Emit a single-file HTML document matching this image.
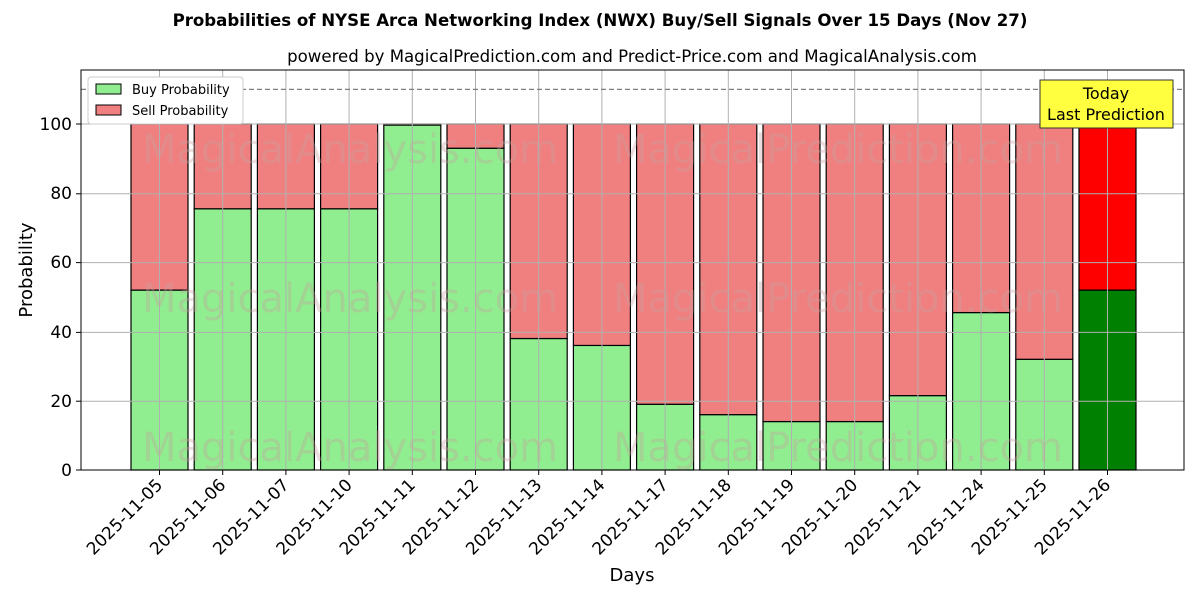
<!DOCTYPE html>
<html><head><meta charset="utf-8"><style>body{margin:0;background:#fff}svg{display:block}</style></head><body>
<svg width="1200" height="600" xmlns="http://www.w3.org/2000/svg" font-family="'DejaVu Sans','Liberation Sans',sans-serif">
<rect width="1200" height="600" fill="#fff"/>
<text x="600" y="26" text-anchor="middle" font-size="16.6" font-weight="bold">Probabilities of NYSE Arca Networking Index (NWX) Buy/Sell Signals Over 15 Days (Nov 27)</text>
<text x="632" y="62" text-anchor="middle" font-size="16.6">powered by MagicalPrediction.com and Predict-Price.com and MagicalAnalysis.com</text>
<g id="bars" stroke="#000" stroke-width="1.2"></g>
<g id="grid" stroke="#b0b0b0" stroke-width="1">
<line x1="81" x2="1184" y1="401.2" y2="401.2"/><line x1="81" x2="1184" y1="332.4" y2="332.4"/><line x1="81" x2="1184" y1="262.6" y2="262.6"/><line x1="81" x2="1184" y1="193.8" y2="193.8"/><line x1="81" x2="1184" y1="124" y2="124"/>
</g>
<g fill="#000" font-size="17" text-anchor="end">
<text x="72" y="476">0</text><text x="72" y="407">20</text><text x="72" y="338">40</text><text x="72" y="268">60</text><text x="72" y="199">80</text><text x="72" y="130">100</text>
</g>
<g stroke="#000"><line x1="76" x2="81" y1="470" y2="470"/><line x1="76" x2="81" y1="401.2" y2="401.2"/><line x1="76" x2="81" y1="332.4" y2="332.4"/><line x1="76" x2="81" y1="262.6" y2="262.6"/><line x1="76" x2="81" y1="193.8" y2="193.8"/><line x1="76" x2="81" y1="124" y2="124"/></g>
<g font-size="40" fill="#c8a0a0" opacity="0.35" text-anchor="middle">
<text x="350" y="163">MagicalAnalysis.com</text><text x="838" y="163">MagicalPrediction.com</text>
<text x="350" y="312">MagicalAnalysis.com</text><text x="838" y="312">MagicalPrediction.com</text>
<text x="350" y="461">MagicalAnalysis.com</text><text x="838" y="461">MagicalPrediction.com</text>
</g>
<line x1="81" x2="1184" y1="89.4" y2="89.4" stroke="#808080" stroke-width="1.3" stroke-dasharray="5,3"/>
<rect x="81" y="70" width="1103" height="400" fill="none" stroke="#000" stroke-width="1"/>
<g id="xl" font-size="17"></g>
<text x="632" y="581" text-anchor="middle" font-size="18">Days</text>
<text transform="translate(32,270) rotate(-90)" text-anchor="middle" font-size="18">Probability</text>
<rect x="1040" y="80" width="133" height="48" fill="#ffff40" stroke="#333" stroke-width="1"/>
<text x="1106" y="99" text-anchor="middle" font-size="16">Today</text>
<text x="1106" y="120" text-anchor="middle" font-size="16">Last Prediction</text>
<rect x="88" y="77" width="155" height="47" fill="#fff" stroke="#ccc" rx="3"/>
<rect x="96" y="84" width="25" height="10" fill="#90ee90" stroke="#000"/>
<text x="132" y="94" font-size="13">Buy Probability</text>
<rect x="96" y="105" width="25" height="10" fill="#f08080" stroke="#000"/>
<text x="132" y="115" font-size="13">Sell Probability</text>
</svg>
<script>
var ns="http://www.w3.org/2000/svg";
var buy=[52,75.5,75.5,75.5,99.7,93,38,36,19,16,14,14,21.5,45.5,32,52];
var d=["2025-11-05","2025-11-06","2025-11-07","2025-11-10","2025-11-11","2025-11-12","2025-11-13","2025-11-14","2025-11-17","2025-11-18","2025-11-19","2025-11-20","2025-11-21","2025-11-24","2025-11-25","2025-11-26"];
var g=document.getElementById("bars"),gr=document.getElementById("grid"),xl=document.getElementById("xl");
function el(t,a,p){var e=document.createElementNS(ns,t);for(var k in a)e.setAttribute(k,a[k]);p.appendChild(e);return e;}
var s=3.46;
for(var i=0;i<16;i++){var c=159.5+i*63.2,x=c-28.5,yb=470-buy[i]*s,last=i==15;
el("line",{x1:c,x2:c,y1:70,y2:470},gr);
el("rect",{x:x,y:yb,width:57,height:470-yb,fill:last?"#008000":"#90ee90"},g);
el("rect",{x:x,y:124,width:57,height:yb-124,fill:last?"#ff0000":"#f08080"},g);
el("line",{x1:c,x2:c,y1:470,y2:475,stroke:"#000"},xl);
var t=el("text",{"text-anchor":"end",transform:"translate("+(c+4)+",486) rotate(-45)"},xl);t.textContent=d[i];}
</script>
</body></html>
